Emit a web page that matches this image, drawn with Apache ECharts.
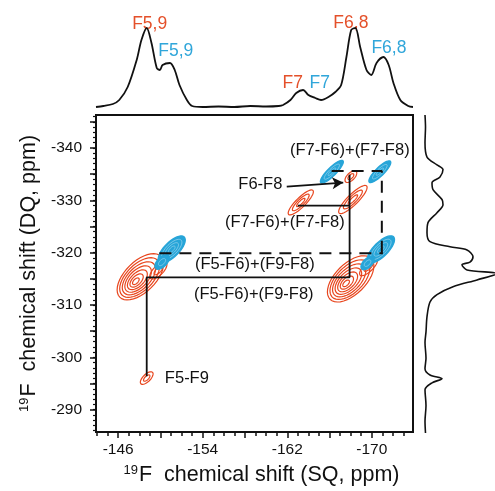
<!DOCTYPE html>
<html>
<head>
<meta charset="utf-8">
<script src="https://cdn.jsdelivr.net/npm/echarts@6/dist/echarts.min.js"></script>
<style>
html, body { margin: 0; padding: 0; background: #fff; }
#main { width: 495px; height: 491px; }
</style>
</head>
<body>
<div id="main"></div>
<script>
// 19F DQ-SQ correlation map with the two projections

var SQ_MIN = -173.9, SQ_MAX = -143.9;
var DQ_MIN = -346.3, DQ_MAX = -285.75;

var sqLabels = [-146, -154, -162, -170];
var sqMajor = [-146, -150, -154, -158, -162, -166, -170];
var sqMinor = [];
for (var i = -144; i >= -173; i--) sqMinor.push(i);
var dqLabels = [-340, -330, -320, -310, -300, -290];
var dqMajor = [-345, -340, -335, -330, -325, -320, -315, -310, -305, -300, -295, -290];
var dqMinor = [];
for (var j = -346; j <= -286; j++) dqMinor.push(j);

// SQ projection: [SQ ppm, intensity]
var topProj = [
    [-143.9, 0], [-144.6, 1], [-145.5, 3], [-146.1, 7], [-146.9, 20], [-147.75, 47],
    [-148.2, 67], [-148.7, 79], [-149.15, 64], [-149.65, 39], [-149.95, 37], [-150.2, 42],
    [-150.9, 44], [-151.35, 37], [-151.8, 22], [-152.5, 7], [-153.0, 1], [-154, 0],
    [-155.5, 0.5], [-157, 0], [-158.5, 1], [-160, 0.5], [-161.2, 1], [-161.6, 2],
    [-162.3, 7], [-162.85, 14], [-163.5, 17], [-164.0, 12], [-164.65, 9], [-165.2, 7],
    [-165.9, 10], [-166.55, 15], [-167.1, 22], [-167.6, 50], [-168.05, 77], [-168.45, 79],
    [-168.9, 60], [-169.5, 37], [-169.95, 32], [-170.45, 44], [-171.1, 50], [-171.6, 42],
    [-172.05, 24], [-172.7, 7], [-173.45, 1], [-173.9, 0]
];

// DQ projection: [intensity, DQ ppm]
var sideProj = [
    [0, -346.3], [0.5, -344], [0, -341], [2, -338.3], [12, -336.8], [18, -335.9],
    [15, -334.5], [7, -333.4], [8, -332.1], [17, -330.2], [18, -329.2], [12, -327.7],
    [3, -325.8], [2, -323.9], [5, -322.2], [25, -321.2], [42, -320.6], [48, -319.3],
    [45, -318.3], [37, -317.8], [42, -316.8], [72, -316.1], [52, -314.9], [28, -313.6],
    [12, -312.1], [5, -310.7], [2, -307.9], [1, -305], [0, -303], [1, -300], [0, -298],
    [5, -296.8], [17, -296.1], [7, -295.3], [0, -294], [1, -291], [0, -288], [0.5, -285.75]
];

// contour peaks: [SQ, DQ, half length along diagonal, half width, levels, skew]
var redPeaks = [
    [-148.1, -315.4, 1.95, 1.45, 7, 0.5],
    [-149.8, -316.6, 0.75, 0.45, 2, 0],
    [-168.0, -315.0, 1.95, 1.45, 7, 0.5],
    [-169.7, -317.3, 0.8, 0.42, 2, 0],
    [-168.02, -334.53, 0.5, 0.35, 2, 0],
    [-163.28, -329.6, 1.15, 0.45, 3, 0],
    [-168.21, -330.15, 1.3, 0.5, 3, 0],
    [-148.7, -296.05, 0.55, 0.35, 2, 0]
];
var bluePeaks = [
    [-151.07, -320.63, 1.18, 0.7, 4, 0],
    [-150.15, -318.2, 0.6, 0.45, 2, 0],
    [-170.86, -320.63, 1.2, 0.68, 4, 0],
    [-169.6, -318.0, 0.55, 0.42, 2, 0],
    [-166.22, -335.47, 1.05, 0.4, 3, 0],
    [-170.76, -335.47, 1.0, 0.4, 3, 0]
];

// connectivity lines [SQ, DQ]
var solidPath = [[-148.7, -296.4], [-148.7, -315.3], [-167.9, -315.3], [-167.9, -334.9]];
var solidShort = [[-163.0, -329.0], [-167.9, -329.0]];
var arrowLine = [[-161.95, -332.6], [-167.3, -333.4]];
var dashLow = [[-149.9, -319.9], [-171.05, -319.9]];
var dashHigh = [[-166.2, -335.6], [-170.95, -335.6], [-170.95, -319.9]];

// labels in the map: [text, SQ, DQ]
var notes = [
    ['(F7-F6)+(F7-F8)', -167.92, -339.49],
    ['F6-F8', -159.45, -333.0],
    ['(F7-F6)+(F7-F8)', -161.77, -325.77],
    ['(F5-F6)+(F9-F8)', -158.93, -317.77],
    ['(F5-F6)+(F9-F8)', -158.83, -312.06],
    ['F5-F9', -152.5, -296.06]
];
// labels over the SQ projection: [text, SQ, intensity, colour key]
var projNotes = [
    ['F5,9', -148.98, 83, 'r'],
    ['F5,9', -151.45, 56, 'b'],
    ['F7', -162.52, 24, 'r'],
    ['F7', -165.08, 24, 'b'],
    ['F6,8', -168.02, 84, 'r'],
    ['F6,8', -171.62, 59, 'b']
];

var RED = '#E8461E', BLUE = '#27A5D8';
var RED_TXT = '#E4502A', BLUE_TXT = '#30A6DA';
var INK = '#111';
var FONT = 'Liberation Sans, Arial, sans-serif';

function contour(color, filled) {
    return function (params, api) {
        var sq = api.value(0), dq = api.value(1), a = api.value(2), w = api.value(3);
        var n = api.value(4), skew = api.value(5);
        var p1 = api.coord([sq - a, dq - 2 * a]);
        var p2 = api.coord([sq + a, dq + 2 * a]);
        var L = Math.hypot(p2[0] - p1[0], p2[1] - p1[1]) / 2;
        var ang = Math.atan2(p2[1] - p1[1], p2[0] - p1[0]);
        var W = Math.abs(api.size([w, 0])[0]);
        var kids = [];
        for (var k = n; k >= 1; k--) {
            var s = k / n;
            var off = (1 - s) * skew;
            var c = api.coord([sq + off, dq + 2 * off]);
            var pts = [];
            for (var m = 0; m < 40; m++) {
                var t = m / 40 * Math.PI * 2;
                var ex = L * s * Math.cos(t), ey = W * s * Math.sin(t);
                pts.push([c[0] + ex * Math.cos(ang) - ey * Math.sin(ang),
                          c[1] + ex * Math.sin(ang) + ey * Math.cos(ang)]);
            }
            var outer = k === n;
            kids.push({
                type: 'polygon',
                shape: { points: pts },
                style: filled
                    ? { fill: outer ? color : 'none', stroke: outer ? color : '#8fd0ec', lineWidth: outer ? 1.3 : 0.8 }
                    : { fill: 'none', stroke: color, lineWidth: 1.2 }
            });
        }
        return { type: 'group', children: kids };
    };
}

// plain text marks anchored at data coordinates
function textMarks(fontSize) {
    return function (params, api) {
        var p = api.coord([api.value(1), api.value(2)]);
        var key = api.value(3);
        return {
            type: 'text',
            x: p[0], y: p[1],
            style: {
                text: api.value(0),
                fill: key === 'r' ? RED_TXT : key === 'b' ? BLUE_TXT : INK,
                font: fontSize + 'px ' + FONT,
                align: 'center', verticalAlign: 'middle'
            }
        };
    };
}

var dom = document.getElementById('main');
var myChart = echarts.init(dom);

var option = {
    animation: false,
    textStyle: { fontFamily: FONT },
    grid: [
        { left: 96, top: 115, width: 317, height: 318, show: true, borderColor: INK, borderWidth: 2, backgroundColor: 'transparent' },
        { left: 96, top: 10, width: 317, height: 97 },
        { left: 425, top: 115, width: 70, height: 318 }
    ],
    xAxis: [
        {
            gridIndex: 0, type: 'value', min: SQ_MIN, max: SQ_MAX, inverse: true,
            axisLine: { show: true, lineStyle: { color: INK, width: 2 } },
            axisTick: { show: true, customValues: sqMinor, length: 4, lineStyle: { color: INK, width: 1.5 } },
            axisLabel: { customValues: sqLabels, fontSize: 15.5, color: INK, margin: 10, fontFamily: FONT },
            splitLine: { show: false },
            name: '{s|19}{t|F  chemical shift (SQ, ppm)}',
            nameLocation: 'middle', nameGap: 32,
            nameTextStyle: {
                color: INK,
                padding: [0, 0, 0, 14],
                rich: {
                    s: { fontSize: 13, fontFamily: FONT, color: INK, padding: [0, 1, 9, 0] },
                    t: { fontSize: 21.5, fontFamily: FONT, color: INK }
                }
            }
        },
        {
            gridIndex: 0, type: 'value', min: SQ_MIN, max: SQ_MAX, inverse: true, position: 'bottom',
            axisLine: { show: false },
            axisTick: { show: true, customValues: sqMajor, length: 6, lineStyle: { color: INK, width: 1.5 } },
            axisLabel: { show: false }, splitLine: { show: false }
        },
        { gridIndex: 1, type: 'value', min: SQ_MIN, max: SQ_MAX, inverse: true, show: false },
        { gridIndex: 2, type: 'value', min: 0, max: 70, show: false }
    ],
    yAxis: [
        {
            gridIndex: 0, type: 'value', min: DQ_MIN, max: DQ_MAX, inverse: true,
            axisLine: { show: true, lineStyle: { color: INK, width: 2 } },
            axisTick: { show: true, customValues: dqMinor, length: 3, lineStyle: { color: INK, width: 1.2 } },
            axisLabel: { customValues: dqLabels, fontSize: 15.5, color: INK, margin: 14, fontFamily: FONT },
            splitLine: { show: false },
            name: '{s|19}{t|F  chemical shift (DQ, ppm)}',
            nameLocation: 'middle', nameGap: 56, nameRotate: 90,
            nameTextStyle: {
                color: INK,
                rich: {
                    s: { fontSize: 13, fontFamily: FONT, color: INK, padding: [0, 1, 9, 0] },
                    t: { fontSize: 21.5, fontFamily: FONT, color: INK }
                }
            }
        },
        {
            gridIndex: 0, type: 'value', min: DQ_MIN, max: DQ_MAX, inverse: true, position: 'left',
            axisLine: { show: false },
            axisTick: { show: true, customValues: dqMajor, length: 6, lineStyle: { color: INK, width: 1.5 } },
            axisLabel: { show: false }, splitLine: { show: false }
        },
        { gridIndex: 1, type: 'value', min: 0, max: 97, show: false },
        { gridIndex: 2, type: 'value', min: DQ_MIN, max: DQ_MAX, inverse: true, show: false }
    ],
    series: [
        {
            type: 'line', xAxisIndex: 2, yAxisIndex: 2, data: topProj, smooth: 0.3,
            showSymbol: false, lineStyle: { color: INK, width: 1.8 }
        },
        {
            type: 'line', xAxisIndex: 3, yAxisIndex: 3, data: sideProj, smooth: 0.3,
            showSymbol: false, lineStyle: { color: INK, width: 1.6 }
        },
        {
            type: 'custom', xAxisIndex: 0, yAxisIndex: 0, data: redPeaks,
            renderItem: contour(RED, false), silent: true
        },
        {
            type: 'custom', xAxisIndex: 0, yAxisIndex: 0, data: bluePeaks,
            renderItem: contour(BLUE, true), silent: true
        },
        {
            type: 'line', xAxisIndex: 0, yAxisIndex: 0, data: solidPath, showSymbol: false,
            lineStyle: { color: INK, width: 1.8 },
            markLine: {
                silent: true, symbol: ['none', 'arrow'], symbolSize: [9, 11],
                lineStyle: { color: INK, width: 1.8, type: 'solid' },
                label: { show: false },
                data: [[{ coord: arrowLine[0] }, { coord: arrowLine[1] }]]
            }
        },
        {
            type: 'line', xAxisIndex: 0, yAxisIndex: 0, data: solidShort, showSymbol: false,
            lineStyle: { color: INK, width: 1.8 }
        },
        {
            type: 'line', xAxisIndex: 0, yAxisIndex: 0, data: dashLow, showSymbol: false,
            lineStyle: { color: INK, width: 2, type: [12, 8] }
        },
        {
            type: 'line', xAxisIndex: 0, yAxisIndex: 0, data: dashHigh, showSymbol: false,
            lineStyle: { color: INK, width: 2, type: [12, 8] }
        },
        {
            type: 'custom', xAxisIndex: 0, yAxisIndex: 0, silent: true,
            data: notes.map(function (d) { return [d[0], d[1], d[2], 'k']; }),
            dimensions: [{ name: 'text', type: 'ordinal' }, 'sq', 'dq', { name: 'key', type: 'ordinal' }],
            encode: { x: 1, y: 2 },
            renderItem: textMarks(16.5)
        },
        {
            type: 'custom', xAxisIndex: 2, yAxisIndex: 2, silent: true,
            data: projNotes,
            dimensions: [{ name: 'text', type: 'ordinal' }, 'sq', 'amp', { name: 'key', type: 'ordinal' }],
            encode: { x: 1, y: 2 },
            renderItem: textMarks(17.5)
        }
    ]
};

if (option && typeof option === 'object') {
    myChart.setOption(option, true);
}
</script>
</body>
</html>
